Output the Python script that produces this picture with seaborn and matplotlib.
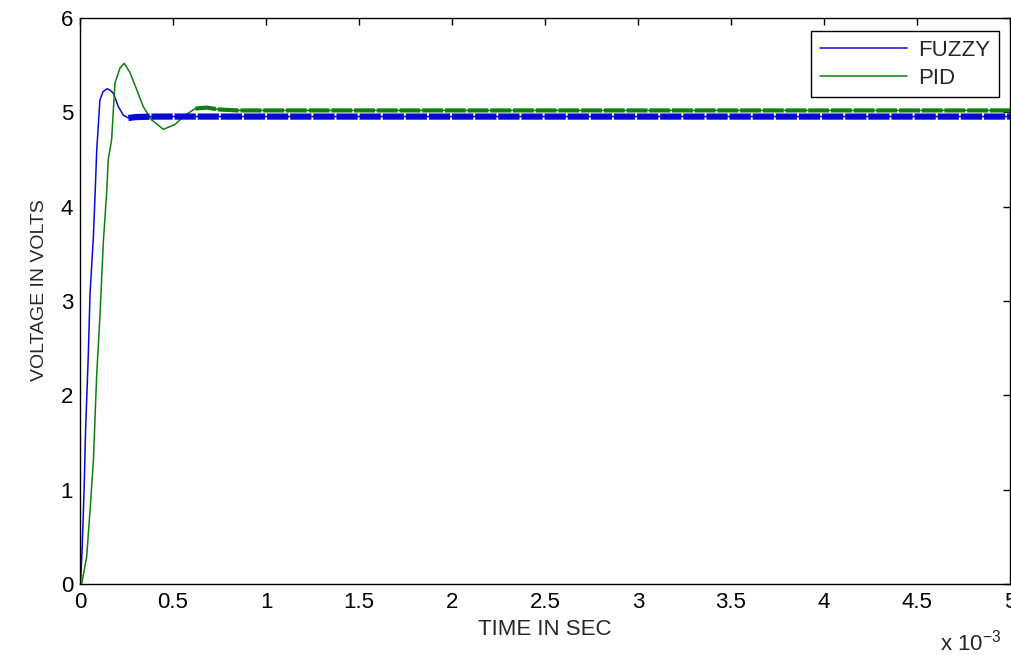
import matplotlib
matplotlib.use("Agg")
import matplotlib.pyplot as plt
import seaborn as sns

# time axis in ms (plotted with a "x 10^-3" multiplier like the original)
fuzzy_t = [0, 0.004, 0.012, 0.022, 0.030, 0.045, 0.054, 0.072, 0.084, 0.090,
           0.107, 0.124, 0.146, 0.165, 0.180, 0.206, 0.233, 0.260, 0.300,
           0.400, 0.600, 1.0, 2.0, 3.0, 4.0, 5.0]
fuzzy_v = [0, 0.05, 0.40, 1.00, 1.63, 2.45, 3.08, 3.68, 4.28, 4.60,
           5.13, 5.22, 5.25, 5.23, 5.20, 5.06, 4.97, 4.94, 4.95,
           4.955, 4.955, 4.955, 4.955, 4.955, 4.955, 4.955]

pid_t = [0, 0.009, 0.036, 0.054, 0.072, 0.090, 0.107, 0.125, 0.143, 0.152,
         0.170, 0.188, 0.215, 0.238, 0.269, 0.305, 0.340, 0.385, 0.448,
         0.510, 0.565, 0.620, 0.680, 0.750, 0.850, 1.0, 2.0, 3.0, 4.0, 5.0]
pid_v = [0, 0, 0.29, 0.78, 1.31, 2.23, 2.83, 3.61, 4.14, 4.50,
         4.71, 5.31, 5.47, 5.52, 5.42, 5.24, 5.06, 4.92, 4.82,
         4.87, 4.97, 5.04, 5.05, 5.03, 5.02, 5.02, 5.02, 5.02, 5.02, 5.02]

x_ticks = [0, 0.5, 1, 1.5, 2, 2.5, 3, 3.5, 4, 4.5, 5]
x_tick_labels = ["0", "0.5", "1", "1.5", "2", "2.5", "3", "3.5", "4", "4.5", "5"]
y_ticks = [0, 1, 2, 3, 4, 5, 6]

blue = "#0a0ad8"
green = "#0f7f0f"

sns.set_style("white")
plt.rcParams['font.family'] = ['Liberation Sans', 'DejaVu Sans']
plt.rcParams['mathtext.fontset'] = 'custom'
plt.rcParams['mathtext.rm'] = 'Liberation Sans'
plt.rcParams['mathtext.it'] = 'Liberation Sans'

fig = plt.figure(figsize=(10.12, 6.55), dpi=100)
ax = fig.add_axes([80 / 1012, 1 - 584 / 655, 930 / 1012, 566 / 655])

sns.lineplot(x=fuzzy_t, y=fuzzy_v, sort=False, estimator=None, color=blue,
             lw=1.1, ax=ax)
sns.lineplot(x=pid_t, y=pid_v, sort=False, estimator=None, color=green,
             lw=1.1, ax=ax)

# the settled part of both traces is drawn as a thick ripple band
f_ss = [(t, v) for t, v in zip(fuzzy_t, fuzzy_v) if t >= 0.25]
p_ss = [(t, v) for t, v in zip(pid_t, pid_v) if t >= 0.62]
sns.lineplot(x=[a for a, b in f_ss], y=[b for a, b in f_ss], sort=False,
             estimator=None, color=blue, lw=4.5, linestyle=(0, (3.4, 0.3)),
             ax=ax)
sns.lineplot(x=[a for a, b in p_ss], y=[b for a, b in p_ss], sort=False,
             estimator=None, color=green, lw=3.0, linestyle=(0, (5.0, 0.45)),
             ax=ax)

lines = ax.get_lines()
leg = ax.legend([lines[0], lines[1]], ["FUZZY", "PID"], loc="upper right",
                bbox_to_anchor=(0.988, 0.977), borderaxespad=0, fontsize=16,
                handlelength=3.9, handletextpad=0.5, fancybox=False,
                framealpha=1, edgecolor="black", borderpad=0.4,
                labelspacing=0.3)
leg.get_frame().set_linewidth(1.0)

ax.set_xlim(0, 5)
ax.set_ylim(0, 6)
ax.set_xticks(x_ticks)
ax.set_xticklabels(x_tick_labels)
ax.set_yticks(y_ticks)
ax.tick_params(direction="in", length=5, width=1, top=True, right=True,
               labelsize=16, colors="black")
ax.tick_params(axis="x", pad=6)
ax.tick_params(axis="y", pad=5)
for s in ax.spines.values():
    s.set_color("black")
    s.set_linewidth(1.0)

ax.set_xlabel("TIME IN SEC", fontsize=16)
ax.set_ylabel("VOLTAGE IN VOLTS", fontsize=14)
ax.xaxis.set_label_coords(0.5, -0.062)
ax.yaxis.set_label_coords(-0.034, 0.52)

fig.text(940 / 1012, 1 - 650 / 655, r"x 10$^{-3}$", fontsize=16,
         ha="left", va="baseline")

fig.savefig("out.png", dpi=100)
